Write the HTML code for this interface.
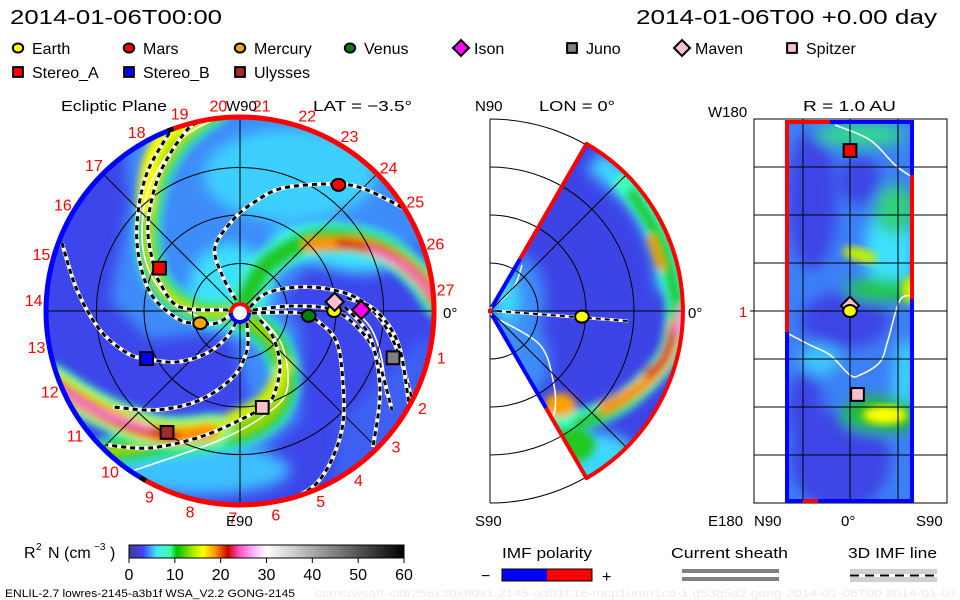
<!DOCTYPE html>
<html><head><meta charset="utf-8"><style>
html,body{margin:0;padding:0;background:#fff;width:960px;height:600px;overflow:hidden}
svg{display:block}
text{font-family:"Liberation Sans",sans-serif;}
</style></head><body>
<svg id="chart" xmlns="http://www.w3.org/2000/svg" width="960" height="600" viewBox="0 0 960 600">
<defs>
<filter id="blur4" x="-20%" y="-20%" width="140%" height="140%"><feGaussianBlur stdDeviation="4"/></filter>
<filter id="blur7" x="-30%" y="-30%" width="160%" height="160%"><feGaussianBlur stdDeviation="7"/></filter>
<clipPath id="clipEcl"><circle cx="240" cy="311" r="194"/></clipPath>
<clipPath id="clipMer"><path d="M490,311 L586.5,143.9 A193,193 0 0 1 586.5,478.1 Z"/></clipPath>
<clipPath id="clipMer2"><rect x="490" y="118" width="220" height="386"/></clipPath>
<clipPath id="clipRect"><rect x="785" y="122" width="129" height="380"/></clipPath>
<linearGradient id="cbar" x1="0" x2="1" y1="0" y2="0">
<stop offset="0" stop-color="#40408a"/><stop offset="0.05" stop-color="#4040ff"/>
<stop offset="0.1" stop-color="#40e8ff"/><stop offset="0.15" stop-color="#40ffa0"/>
<stop offset="0.175" stop-color="#00c000"/><stop offset="0.24" stop-color="#c0f000"/>
<stop offset="0.27" stop-color="#ffff00"/><stop offset="0.31" stop-color="#ffa000"/>
<stop offset="0.36" stop-color="#d00000"/><stop offset="0.4" stop-color="#ff50c0"/>
<stop offset="0.45" stop-color="#ffb0ff"/><stop offset="0.5" stop-color="#ffffff"/>
<stop offset="1" stop-color="#000000"/>
</linearGradient>
</defs>
<g id="root"></g>
</svg>
<script>
// ---- data ----
const planetNames = ["Earth","Mars","Mercury","Venus","Ison","Juno","Maven","Spitzer","Stereo_A","Stereo_B","Ulysses"];
const planetR = [0.97,1.65,0.43,0.71,1.25,1.65,0.98,1.02,0.94,1.08,1.46];       // AU
const planetLon = [0,52,197,-4,0.5,-17,5.5,-77,152,207,239];                    // deg
const planetShape = ["circle","circle","circle","circle","diamond","square","diamond","square","square","square","square"];
const planetColor = ["#ffff00","#ff0000","#ffa500","#007f00","#ff00ff","#808080","#ffc0cb","#ffc0cb","#ff0000","#0000ff","#a52a2a"];
const cbTicks = [0,10,20,30,40,50,60];
const longLabels = [20,21,22,23,24,25,26,27,1,2,3,4,5,6,7,8,9,10,11,12,13,14,15,16,17,18,19];
const longLabelAngle = [96,84,71,58,44,32,19,6,-13,-28,-41,-55,-67,-80,-92,-104,-116,-129,-143,-157,-170,177,164,149,135,120,107];
const merPlanetR = [0.95];
const merPlanetLat = [-3.5];
const rectPlanetIdx = [8,6,0,7];
const rectPlanetLat = [0,0,0,-7];
const rectPlanetLon = [150,5,0,-78];

// ---- helpers ----
const NS="http://www.w3.org/2000/svg";
const root=document.getElementById('root');
function el(tag,attrs,parent){const e=document.createElementNS(NS,tag);for(const k in attrs)e.setAttribute(k,attrs[k]);(parent||root).appendChild(e);return e;}
function txt(s,x,y,size,attrs,parent){const t=el('text',Object.assign({x:x,y:y,'font-size':size,fill:'#000'},attrs||{}),parent);t.textContent=s;return t;}
const CX=240,CY=311,AU=97,RMAX=194;
function ex(r,a){return CX+r*AU*Math.cos(a*Math.PI/180);}
function ey(r,a){return CY-r*AU*Math.sin(a*Math.PI/180);}
function smooth(pts){let d=`M${pts[0][0]},${pts[0][1]}`;for(let i=0;i<pts.length-1;i++){const p0=pts[Math.max(0,i-1)],p1=pts[i],p2=pts[i+1],p3=pts[Math.min(pts.length-1,i+2)];d+=` C${p1[0]+(p2[0]-p0[0])/6},${p1[1]+(p2[1]-p0[1])/6} ${p2[0]-(p3[0]-p1[0])/6},${p2[1]-(p3[1]-p1[1])/6} ${p2[0]},${p2[1]}`;}return d;}
function marker(shape,color,x,y,s,parent){
  let m;
  if(shape==='circle') m=el('ellipse',{cx:x,cy:y,rx:s*0.8,ry:s*0.7,fill:color,stroke:'#000','stroke-width':2},parent);
  else if(shape==='square') m=el('rect',{x:x-s*0.75,y:y-s*0.75,width:s*1.5,height:s*1.5,fill:color,stroke:'#000','stroke-width':2},parent);
  else m=el('path',{d:`M${x},${y-s} L${x+s},${y} L${x},${y+s} L${x-s},${y} Z`,fill:color,stroke:'#000','stroke-width':2},parent);
  return m;
}

// ---- header ----
let t=txt('2014-01-06T00:00',10,24,20,{textLength:212,lengthAdjust:'spacingAndGlyphs'});

t=txt('2014-01-06T00 +0.00 day',636,24,20,{textLength:301,lengthAdjust:'spacingAndGlyphs'});


// ---- legend ----
const legX=[18,129,240,350,461,572,682,792,18,129,240];
const legY=[48,48,48,48,48,48,48,48,72,72,72];
const legGroup=el('g',{});


for(let i=0;i<planetNames.length;i++){
  const g=el('g',{},legGroup);
  
  
  marker(planetShape[i],planetColor[i],legX[i],legY[i],planetShape[i]==='diamond'?8:6.5,g);
  txt(planetNames[i],legX[i]+(planetShape[i]==='diamond'?13:14),legY[i]+6,16,{},g);
}

// ---- ecliptic panel ----
const ecl=el('g',{});


const dens=el('g',{'clip-path':'url(#clipEcl)'},ecl);


el('circle',{cx:CX,cy:CY,r:RMAX,fill:'#3c46ea'},dens);
const bl=el('g',{filter:'url(#blur7)'},dens);
el('path',{d:'M120,110 L440,110 L440,250 L330,240 L280,300 L300,330 L300,420 L240,470 L200,440 L250,400 L230,330 L150,340 L110,300 L130,200 Z',fill:'#3c8cfa'},bl);
el('path',{d:'M430,330 L440,500 L330,500 L340,420 Z',fill:'#3c60f2'},bl);
el('ellipse',{cx:290,cy:175,rx:85,ry:45,fill:'#3cd0ff'},bl);
el('ellipse',{cx:230,cy:290,rx:40,ry:45,fill:'#3ce0ff'},bl);
el('ellipse',{cx:330,cy:250,rx:60,ry:18,fill:'#3ce0ff',transform:'rotate(15 330 250)'},bl);
el('ellipse',{cx:200,cy:470,rx:90,ry:25,fill:'#3cc0ff'},bl);
const arms=el('g',{filter:'url(#blur4)',fill:'none','stroke-linecap':'round'},dens);
const armA=[[215,112],[180,140],[155,185],[148,240],[160,285],[195,310],[238,312]];
const armB=[[245,318],[272,340],[285,375],[275,410],[240,432],[180,442],[110,452],[60,470]];
const armC=[[245,300],[270,262],[320,238],[375,245],[415,272],[440,305]];
const armD=[[50,380],[100,410],[160,432],[215,430]];
[[armA,26,'#3cffc0'],[armA,18,'#10c010'],[armA,8,'#c0f000'],[armB,30,'#3cffc0'],[armB,22,'#10c010'],[armB,8,'#a0e000'],[armC,30,'#3cffd0'],[armC,20,'#20c820'],[armD,34,'#3cffb0'],[armD,24,'#c0f000']].forEach(a=>el('path',{d:smooth(a[0]),stroke:a[2],'stroke-width':a[1]},arms));
el('path',{d:smooth([[190,118],[165,135],[150,165],[145,205]]),stroke:'#ffff00','stroke-width':16},arms);
el('path',{d:smooth([[230,420],[265,400],[285,365]]),stroke:'#d0f000','stroke-width':14},arms);
el('path',{d:smooth([[310,245],[360,245],[405,265],[438,300]]),stroke:'#ff9000','stroke-width':14},arms);
el('path',{d:smooth([[340,243],[380,252],[412,272],[438,302]]),stroke:'#d81010','stroke-width':9},arms);
el('path',{d:smooth([[370,250],[405,267],[432,295]]),stroke:'#ff80e0','stroke-width':5},arms);
el('path',{d:smooth([[55,385],[100,412],[160,435],[210,432]]),stroke:'#ff9000','stroke-width':16},arms);
el('path',{d:smooth([[60,388],[110,418],[175,437]]),stroke:'#d01010','stroke-width':10},arms);
el('path',{d:smooth([[62,390],[100,413],[150,428]]),stroke:'#ff90f0','stroke-width':5},arms);
const sheathLines=[
 [[217,118],[180,140],[150,185],[142,230],[148,268],[170,300],[205,320]],
 [[257,313],[282,345],[287,390],[265,415],[220,440],[150,465],[110,478]],
 [[355,310],[372,330],[382,360],[386,395]]
];
sheathLines.forEach(p=>{const e=el('path',{d:smooth(p),fill:'none',stroke:'#fff','stroke-width':1.6},dens);
});
const grid=el('g',{fill:'none',stroke:'#000','stroke-width':1},ecl);


[0.49,0.99,1.48].forEach(r=>el('circle',{cx:CX,cy:CY,r:r*AU},grid));
[0,45,90,135].forEach(a=>el('line',{x1:ex(2,a),y1:ey(2,a),x2:ex(2,a+180),y2:ey(2,a+180)},grid));
const fieldLines=[
 [[236,300],[222,275],[215,247],[233,220],[253,203],[283,188],[337,184],[367,190],[403,208]],
 [[250,307],[267,293],[300,287],[333,290],[360,300],[383,323],[400,357],[412,400]],
 [[253,310],[293,306],[333,310],[360,330],[377,357],[392,410]],
 [[252,313],[300,313],[320,323],[337,343],[343,383],[343,423],[333,457],[317,483],[297,497]],
 [[347,298],[375,310],[398,343],[408,397],[410,415]],
 [[345,307],[370,337],[380,390],[373,447]],
 [[233,313],[217,323],[200,323],[180,320],[153,297],[140,263],[137,223],[147,173],[173,127]],
 [[228,310],[180,307],[160,283],[153,263],[148,223],[160,173],[187,130],[205,121]],
 [[62,243],[77,290],[100,330],[127,353],[147,359],[177,362],[207,353],[227,337],[237,320]],
 [[247,323],[247,350],[233,377],[200,400],[157,410],[113,407]],
 [[260,320],[273,337],[280,367],[273,397],[263,407],[240,420],[200,437],[150,448],[107,445]]
];
fieldLines.forEach(p=>{const g=el('g',{'clip-path':'url(#clipEcl)'},ecl);

el('path',{d:smooth(p),fill:'none',stroke:'#fff','stroke-width':4},g);
el('path',{d:smooth(p),fill:'none',stroke:'#000','stroke-width':3,'stroke-dasharray':'5 4'},g);});
const rim=el('g',{fill:'none','stroke-width':5},ecl);


function arcPath(r,a1,a2){const x1=ex(r,a1),y1=ey(r,a1),x2=ex(r,a2),y2=ey(r,a2);const large=Math.abs(a2-a1)>180?1:0;return `M${x1},${y1} A${r*AU},${r*AU} 0 ${large} 0 ${x2},${y2}`;}
el('path',{d:arcPath(2.0,-119,110),stroke:'#ff0000'},rim);
el('path',{d:arcPath(2.0,112,239),stroke:'#0000ff'},rim);
el('path',{d:arcPath(2.0,110,112),stroke:'#000'},rim);
el('path',{d:arcPath(2.0,239,241),stroke:'#000'},rim);
const sun=el('g',{},ecl);


el('circle',{cx:CX,cy:CY,r:9,fill:'#fff'},sun);
el('path',{d:`M${CX-9},${CY+2} A9,9 0 1 1 ${CX+9},${CY+2}`,fill:'none',stroke:'#f00','stroke-width':4},sun);
el('path',{d:`M${CX+9},${CY+2} A9,9 0 0 1 ${CX-9},${CY+2}`,fill:'none',stroke:'#00f','stroke-width':4},sun);
for(let i=0;i<planetNames.length;i++){
  const m=marker(planetShape[i],planetColor[i],ex(planetR[i],planetLon[i]),ey(planetR[i],planetLon[i]),planetShape[i]==='diamond'?9:8.5,ecl);
  
  
}
for(let i=0;i<longLabels.length;i++){
  const r=2.13,a=longLabelAngle[i];
  const l=txt(String(longLabels[i]),ex(r,a),ey(r,a)+6,16,{fill:'#ff0000','text-anchor':'middle'},ecl);
  
}
t=txt('Ecliptic Plane',61,111,15,{textLength:106,lengthAdjust:'spacingAndGlyphs'},ecl);
t=txt('W90',226,111,15,{},ecl);
t=txt('E90',226,526,15,{},ecl);
t=txt('LAT = −3.5°',313,111,15,{textLength:99,lengthAdjust:'spacingAndGlyphs'},ecl);
t=txt('0°',443,318,15,{},ecl);

// ---- meridional panel ----
const MX=490,MY=311;
const mer=el('g',{});


const mg=el('g',{'clip-path':'url(#clipMer2)',fill:'none',stroke:'#000','stroke-width':1},mer);
[48,96,144,192].forEach(r=>el('circle',{cx:MX,cy:MY,r:r},mg));
el('path',{d:`M${MX},119 L${MX},503`,stroke:'#000'},mer);
const md=el('g',{'clip-path':'url(#clipMer)'},mer);


el('rect',{x:490,y:119,width:200,height:384,fill:'#3c44e6'},md);
const mb=el('g',{filter:'url(#blur7)'},md);
el('ellipse',{cx:520,cy:300,rx:25,ry:45,fill:'#3c8cfa'},mb);
el('ellipse',{cx:505,cy:300,rx:14,ry:25,fill:'#3cd8ff'},mb);
el('ellipse',{cx:520,cy:360,rx:30,ry:40,fill:'#3c8cfa'},mb);
el('ellipse',{cx:590,cy:460,rx:50,ry:28,fill:'#3cd8ff'},mb);
el('path',{d:smooth([[595,160],[640,200],[665,250],[670,290]]),fill:'none',stroke:'#3cd8ff','stroke-width':26},mb);
const ma=el('g',{filter:'url(#blur4)',fill:'none'},md);
el('path',{d:smooth([[620,175],[655,225],[672,280],[676,320],[665,360],[625,400],[580,420],[545,420]]),stroke:'#3cffc0','stroke-width':22},ma);
el('path',{d:smooth([[630,190],[660,240],[674,290],[676,320],[662,365],[620,405],[575,425]]),stroke:'#20c820','stroke-width':12},ma);
el('path',{d:smooth([[650,235],[662,270]]),stroke:'#ff9000','stroke-width':8},ma);
el('path',{d:smooth([[676,320],[665,360],[635,390],[600,410]]),stroke:'#ff9000','stroke-width':12},ma);
el('path',{d:smooth([[676,325],[662,360],[645,375]]),stroke:'#d01010','stroke-width':8},ma);
el('path',{d:smooth([[682,305],[678,335]]),stroke:'#ff90f0','stroke-width':7},ma);
el('ellipse',{cx:560,cy:405,rx:16,ry:12,fill:'#ffa000'},ma);
el('ellipse',{cx:570,cy:445,rx:25,ry:18,fill:'#20c820'},ma);
const mgl=el('g',{fill:'none',stroke:'#000','stroke-width':1,'clip-path':'url(#clipMer)'},mer);
[48,96,144].forEach(r=>el('circle',{cx:MX,cy:MY,r:r},mgl));
el('line',{x1:490,y1:311,x2:690,y2:311},mgl);
el('line',{x1:490,y1:311,x2:627,y2:174},mgl);
el('line',{x1:490,y1:311,x2:627,y2:448},mgl);
el('path',{d:smooth([[500,302],[515,285],[522,265]]),fill:'none',stroke:'#fff','stroke-width':1.5},md);
el('path',{d:smooth([[500,320],[540,345],[553,380],[555,410],[546,430]]),fill:'none',stroke:'#fff','stroke-width':1.5},md);
const mrim=el('g',{fill:'none','stroke-width':4,'stroke-linejoin':'round'},mer);


el('path',{d:'M520,259 L586.5,143.9 A193,193 0 0 1 586.5,478.1 L546,408',stroke:'#ff0000'},mrim);
el('path',{d:'M520,259 L492,307',stroke:'#0000ff'},mrim);
el('path',{d:'M492,315 L546,408',stroke:'#0000ff'},mrim);
el('path',{d:'M490,309 L490,313',stroke:'#ff0000'},mrim);
const mfl=el('g',{},mer);


el('path',{d:'M497,311 L628,321',stroke:'#fff','stroke-width':3},mfl);
el('path',{d:'M497,311 L628,321',stroke:'#000','stroke-width':2,'stroke-dasharray':'5 4'},mfl);
const mp=marker('circle','#ffff00',MX+merPlanetR[0]*AU*Math.cos(merPlanetLat[0]*Math.PI/180),MY-merPlanetR[0]*AU*Math.sin(merPlanetLat[0]*Math.PI/180),8.5,mer);

t=txt('N90',475,111,15,{},mer);
t=txt('LON = 0°',539,111,15,{textLength:76,lengthAdjust:'spacingAndGlyphs'},mer);
t=txt('S90',475,526,15,{},mer);
t=txt('0°',688,318,15,{},mer);

// ---- R=1AU panel ----
const rp=el('g',{});


el('rect',{x:754,y:119,width:193,height:384,fill:'none',stroke:'#000','stroke-width':1},rp);
const rd=el('g',{'clip-path':'url(#clipRect)'},rp);


el('rect',{x:785,y:122,width:129,height:380,fill:'#3c80f6'},rd);
const rb=el('g',{filter:'url(#blur7)'},rd);
[[812,200,25,70,'#3c44e6'],[845,320,45,28,'#3c44e6'],[840,460,50,50,'#3c44e6'],[805,410,18,40,'#3c44e6'],[860,180,20,25,'#3c44e6'],
 [890,250,25,45,'#3ce0ff'],[905,380,12,40,'#3cd0ff'],[860,135,45,12,'#30d890'],[895,210,20,25,'#30d080'],
 [880,290,35,12,'#20c840'],[880,415,40,18,'#20c020'],[820,360,20,15,'#3cc8ff']].forEach(b=>el('ellipse',{cx:b[0],cy:b[1],rx:b[2],ry:b[3],fill:b[4]},rb));
el('ellipse',{cx:860,cy:255,rx:18,ry:7,fill:'#c8f000',filter:'url(#blur4)',transform:'rotate(15 860 255)'},rd);
el('ellipse',{cx:885,cy:415,rx:22,ry:9,fill:'#ffff00',filter:'url(#blur4)'},rd);
el('ellipse',{cx:910,cy:290,rx:8,ry:14,fill:'#d0f000',filter:'url(#blur4)'},rd);
el('path',{d:smooth([[835,125],[870,140],[895,165],[912,177]]),fill:'none',stroke:'#fff','stroke-width':1.5},rd);
el('path',{d:smooth([[785,332],[810,345],[830,355],[850,375],[860,375],[880,362],[888,340],[900,300],[914,296]]),fill:'none',stroke:'#fff','stroke-width':1.5},rd);
const rg=el('g',{stroke:'#000','stroke-width':1},rp);


[803,850,898].forEach(x=>el('line',{x1:x,y1:119,x2:x,y2:503},rg));
[167,215,263,311,359,407,455].forEach(y=>el('line',{x1:754,y1:y,x2:947,y2:y},rg));
el('line',{x1:750,y1:311,x2:754,y2:311},rg);
const rrim=el('g',{fill:'none','stroke-width':4},rp);


el('path',{d:'M787,332 L787,122 L830,122',stroke:'#ff0000'},rrim);
el('path',{d:'M830,122 L912,122 L912,175',stroke:'#0000ff'},rrim);
el('path',{d:'M912,175 L912,299',stroke:'#ff0000'},rrim);
el('path',{d:'M912,299 L912,501 L787,501 L787,332',stroke:'#0000ff'},rrim);
el('path',{d:'M803,501 L818,501',stroke:'#ff0000'},rrim);
for(let i=0;i<rectPlanetIdx.length;i++){
  const k=rectPlanetIdx[i];
  const x=850-rectPlanetLat[i]*1.07;
  const y=311-rectPlanetLon[i]*1.07;
  const m=marker(planetShape[k],planetColor[k],x,y,planetShape[k]==='diamond'?9:8.5,rp);
  
  
}
t=txt('R = 1.0 AU',803,111,15,{textLength:93,lengthAdjust:'spacingAndGlyphs'},rp);
t=txt('W180',708,117,15,{},rp);
t=txt('E180',708,526,15,{},rp);
t=txt('1',739,317,15,{fill:'#ff0000'},rp);
t=txt('N90',754,526,15,{},rp);
t=txt('0°',841,526,15,{},rp);
t=txt('S90',916,526,15,{},rp);

// ---- colorbar ----
const cb=el('g',{});


el('rect',{x:129,y:545,width:275,height:13,fill:'url(#cbar)',stroke:'#000','stroke-width':1},cb);
cbTicks.forEach(v=>{const x=129+v/60*275;el('line',{x1:x,y1:558,x2:x,y2:563,stroke:'#000'},cb);
 const l=txt(String(v),x,580,16,{'text-anchor':'middle'},cb);});
t=txt('R',24,558,16,{},cb);
txt('2',36,550,10,{},cb);txt('N (cm',48,558,16,{},cb);txt('−3',94,550,10,{},cb);txt(')',110,558,16,{},cb);
t=txt('ENLIL-2.7 lowres-2145-a3b1f WSA_V2.2 GONG-2145',5,597,11,{textLength:290,lengthAdjust:'spacingAndGlyphs'});

t=txt('ccmc/wsafr-cld/256x30x90x1.2145-a3b1f.16-mcp1umn1cd-1.g53q5d2.gong-2014-01-06T00   2014-01-07',315,597,11,{fill:'#ececec',textLength:642,lengthAdjust:'spacingAndGlyphs'});


// ---- bottom legends ----
const il=el('g',{});


txt('IMF polarity',502,558,15,{textLength:90,lengthAdjust:'spacingAndGlyphs'},il);
txt('−',481,581,16,{},il);txt('+',602,582,16,{},il);
el('rect',{x:502,y:569,width:45,height:12,fill:'#0000ff'},il);
el('rect',{x:547,y:569,width:45,height:12,fill:'#ff0000'},il);
el('rect',{x:502,y:569,width:90,height:12,fill:'none',stroke:'#000'},il);
const cs=el('g',{});


txt('Current sheath',671,558,15,{textLength:117,lengthAdjust:'spacingAndGlyphs'},cs);
el('rect',{x:682,y:569,width:97,height:4,fill:'#808080'},cs);
el('rect',{x:682,y:577,width:97,height:4,fill:'#808080'},cs);
const fl=el('g',{});


txt('3D IMF line',848,558,15,{textLength:89,lengthAdjust:'spacingAndGlyphs'},fl);
el('rect',{x:850,y:569,width:87,height:13,fill:'#d0d0d0'},fl);
el('line',{x1:850,y1:575.5,x2:937,y2:575.5,stroke:'#fff','stroke-width':3},fl);
el('line',{x1:850,y1:575.5,x2:937,y2:575.5,stroke:'#000','stroke-width':2,'stroke-dasharray':'9 6'},fl);
</script>
</body></html>
